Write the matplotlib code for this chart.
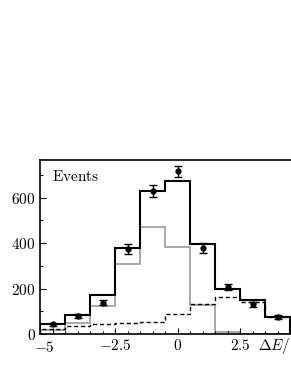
import numpy as np
import matplotlib
matplotlib.use("Agg")
import matplotlib.pyplot as plt
import matplotlib.transforms as mtrans

plt.rcParams['mathtext.fontset'] = 'cm'
plt.rcParams['font.family'] = 'serif'
plt.rcParams['font.serif'] = ['DejaVu Serif']

# bin edges in Delta E, 1 unit wide
edges = np.arange(-5.5, 5.0, 1.0)
centers = np.arange(-5, 5, 1.0)

total = [44, 85, 172, 377, 629, 673, 395, 198, 150, 76]
signal = [18, 47, 123, 308, 472, 381, 128, 10, 2, 0]
backgr = [23, 35, 43, 47, 55, 90, 130, 162, 142, 76]

data = [43, 79, 138, 374, 630, 717, 377, 208, 131, 76]
err = [7, 9, 12, 22, 26, 24, 22, 14, 11, 9]

fig = plt.figure(figsize=(2.91, 3.76), dpi=100)
ax = fig.add_axes([40/291, 42/376, 275/291, 174/376])

ax.stairs(signal, edges, color='#999999', lw=1.2, baseline=0)
ax.stairs(backgr, edges, color='black', lw=1.0, ls=(0, (3, 2)), baseline=0)
ax.stairs(total, edges, color='black', lw=1.5, baseline=0)
ax.errorbar(centers, data, yerr=err, fmt='o', color='black', ms=3.5,
            elinewidth=1.0, capsize=3, capthick=1.0)

ax.set_xlim(-5.5, 5.5)
ax.set_ylim(0, 766)
ax.set_xticks([-5, -2.5, 0, 2.5])
ax.set_xticklabels(['$-5$', '$-2.5$', '$0$', '$2.5$'])
ax.set_xticks(np.arange(-5, 5.01, 0.5), minor=True)
ax.set_yticks([0, 200, 400, 600])
ax.set_yticklabels(['$0$', '$200$', '$400$', '$600$'])
ax.set_yticks(np.arange(0, 701, 100), minor=True)
ax.tick_params(which='both', direction='in', labelsize=11, top=False, right=False, width=0.8)
ax.tick_params(which='major', length=4, pad=3)
ax.tick_params(which='minor', length=2.5)
for s in ax.spines.values():
    s.set_linewidth(1.2)

# the -5 label sits a little left of its tick in the original
lab = ax.get_xticklabels()[0]
lab.set_transform(lab.get_transform() + mtrans.ScaledTranslation(-0.08, -0.02, fig.dpi_scale_trans))

ax.text(0.045, 0.88, r'$\mathrm{Events}$', transform=ax.transAxes, fontsize=11)
fig.text(258/291, 1 - 346/376, r'$\Delta E/$', fontsize=11, va='center')

fig.savefig('out.png', dpi=100)
